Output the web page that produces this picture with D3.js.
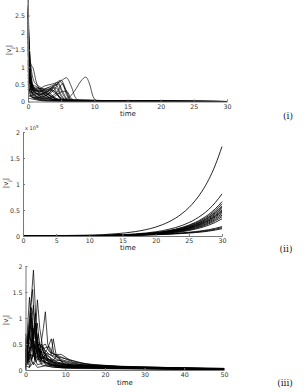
<!DOCTYPE html>
<html>
<head>
<meta charset="utf-8">
<script src="https://cdn.jsdelivr.net/npm/d3@7"></script>
<style>
  body { margin: 0; background: #fff; }
  svg { display: block; }
</style>
</head>
<body>
<div id="chart"></div>
<script>
// panel (i): decaying curves, [time, |v_j|]
let curvesA = [
    [[0,2.95],[0.2,1.6],[0.5,0.7],[1,0.3],[2,0.12],[3,0.05],[5,0.01],[30,0]],
    [[0,2.6],[0.3,1.2],[0.7,0.5],[1.5,0.3],[2.5,0.2],[3.5,0.08],[5,0.02],[30,0]],
    [[0,2.3],[0.4,1.1],[1,0.55],[2,0.4],[3,0.25],[4,0.1],[6,0.02],[30,0]],
    [[0,2.0],[0.3,0.9],[0.8,0.4],[1.5,0.35],[2.5,0.45],[3.5,0.5],[4.5,0.55],[5.2,0.3],[6,0.05],[7,0],[30,0]],
    [[0,1.5],[0.4,1.1],[0.8,0.95],[1.2,0.6],[2,0.3],[3,0.15],[4,0.05],[30,0]],
    [[0,1.2],[0.3,0.6],[1,0.3],[2,0.2],[3,0.3],[4,0.5],[5,0.62],[5.7,0.35],[6.5,0.05],[7.5,0],[30,0]],
    [[0,0.9],[0.5,0.4],[1,0.25],[2,0.22],[3,0.3],[4,0.45],[5,0.6],[5.8,0.69],[6.5,0.45],[7.2,0.1],[8,0.01],[30,0]],
    [[0,0.5],[0.5,0.2],[1,0.1],[2,0.06],[3,0.05],[4,0.05],[5,0.06],[6,0.1],[7,0.3],[8,0.6],[8.7,0.71],[9.3,0.5],[9.8,0.15],[10.4,0.02],[11,0],[30,0]],
    [[0,0.3],[0.5,0.35],[1.5,0.3],[2.5,0.35],[3.5,0.45],[4.5,0.5],[5.3,0.2],[6,0.03],[7,0],[30,0]],
    [[0,0.7],[0.5,0.3],[1.2,0.15],[2,0.2],[3,0.35],[3.8,0.42],[4.5,0.2],[5.2,0.03],[6,0],[30,0]],
    [[0,1.0],[0.4,0.45],[1,0.35],[2,0.3],[3,0.2],[4,0.1],[5,0.05],[6,0.02],[30,0]],
    [[0,0.2],[1,0.1],[2,0.12],[3,0.2],[4,0.35],[4.8,0.58],[5.5,0.4],[6.2,0.1],[7,0.01],[30,0]],
    [[0,2.8],[0.2,1.0],[0.6,0.45],[1.2,0.25],[2,0.15],[3,0.1],[4.5,0.03],[30,0]],
    [[0,1.9],[0.3,0.7],[0.8,0.3],[1.5,0.2],[2.5,0.25],[3.5,0.35],[4.2,0.4],[5,0.15],[5.8,0.02],[30,0]],
    [[0,0.4],[0.6,0.25],[1.5,0.4],[2.5,0.3],[3.5,0.15],[4.5,0.05],[30,0]],
    [[0,1.4],[0.3,0.5],[1,0.15],[2,0.08],[3,0.1],[4,0.15],[5,0.28],[5.8,0.3],[6.5,0.1],[7.5,0.01],[30,0]],
    [[0,0.6],[0.5,0.15],[1.5,0.05],[3,0.02],[30,0]],
    [[0,2.1],[0.2,0.8],[0.5,0.3],[1,0.12],[2,0.05],[3,0.02],[30,0]],
    [[0,0.15],[1,0.2],[2,0.3],[3,0.4],[4,0.3],[5,0.1],[6,0.02],[30,0]],
    [[0,1.1],[0.4,0.55],[1,0.4],[1.7,0.38],[2.5,0.2],[3.5,0.08],[5,0.02],[30,0]],
    [[0,0.1],[3,0.01],[8,0.005],[9.5,0.02],[10,0.035],[10.5,0.02],[11.5,0],[30,0]],
    [[0,2.5],[0.2,1.3],[0.5,0.55],[1,0.35],[2,0.28],[3,0.35],[4,0.25],[5,0.08],[6,0.01],[30,0]],
    [[0,0.8],[0.5,0.3],[1,0.2],[2,0.1],[2.8,0.18],[3.6,0.32],[4.3,0.25],[5,0.05],[30,0]],
    [[0,1.6],[0.3,0.6],[0.8,0.28],[1.5,0.12],[2.5,0.08],[3.5,0.15],[4.5,0.3],[5.2,0.52],[5.8,0.2],[6.5,0.02],[30,0]],
    [[0,1.75],[0.25,0.75],[0.7,0.35],[1.3,0.3],[2.2,0.38],[3,0.3],[4,0.12],[5,0.03],[30,0]],
    [[0,0.35],[0.8,0.1],[2,0.15],[3.2,0.25],[4.2,0.48],[5,0.2],[5.8,0.02],[30,0]],
    [[0,2.7],[0.15,1.4],[0.4,0.6],[0.9,0.4],[1.6,0.25],[2.6,0.12],[4,0.03],[30,0]],
    [[0,2.2],[0.25,1.0],[0.6,0.5],[1.1,0.45],[2,0.35],[3,0.2],[4.5,0.05],[30,0]]
]

// panel (ii): growing curves, values in units of 1e5
let timesB = [0, 10, 14, 17, 20, 22, 24, 25, 26, 27, 28, 29, 30]
let curvesB = [
    [0.002,0.017,0.043,0.086,0.172,0.273,0.433,0.545,0.686,0.863,1.085,1.367,1.72],
    [0.001,0.008,0.02,0.041,0.081,0.129,0.204,0.257,0.323,0.407,0.511,0.644,0.81],
    [0.001,0.007,0.017,0.033,0.066,0.105,0.166,0.209,0.263,0.331,0.416,0.525,0.66],
    [0.001,0.006,0.016,0.031,0.062,0.099,0.156,0.197,0.247,0.311,0.391,0.493,0.62],
    [0.001,0.006,0.015,0.029,0.058,0.092,0.146,0.184,0.231,0.291,0.366,0.461,0.58],
    [0.001,0.006,0.014,0.028,0.056,0.089,0.141,0.178,0.223,0.281,0.353,0.445,0.56],
    [0.001,0.005,0.013,0.027,0.053,0.084,0.134,0.168,0.211,0.266,0.334,0.421,0.53],
    [0.001,0.005,0.013,0.025,0.05,0.08,0.126,0.159,0.2,0.251,0.316,0.398,0.5],
    [0,0.005,0.012,0.024,0.048,0.076,0.121,0.152,0.192,0.241,0.303,0.382,0.48],
    [0,0.005,0.012,0.023,0.046,0.073,0.116,0.146,0.184,0.231,0.29,0.366,0.46],
    [0,0.004,0.011,0.022,0.043,0.068,0.108,0.136,0.172,0.216,0.271,0.342,0.43],
    [0,0.004,0.01,0.02,0.04,0.064,0.101,0.127,0.16,0.201,0.252,0.318,0.4],
    [0,0.004,0.009,0.019,0.037,0.059,0.093,0.117,0.148,0.186,0.233,0.294,0.37],
    [0,0.003,0.008,0.017,0.033,0.052,0.083,0.105,0.132,0.166,0.208,0.262,0.33],
    [0.001,0.005,0.011,0.018,0.031,0.043,0.061,0.072,0.085,0.101,0.121,0.148,0.18],
    [0.001,0.005,0.01,0.016,0.027,0.038,0.054,0.064,0.075,0.09,0.107,0.131,0.16],
    [0.001,0.004,0.008,0.014,0.024,0.034,0.048,0.056,0.066,0.078,0.094,0.115,0.14]
]

// panel (iii): spiky curves, [time, |v_j|]
let curvesC = [
    [[0,0.1],[1,0.9],[2,1.92],[2.6,1.0],[3,0.5],[4,0.3],[6,0.15],[10,0.07],[20,0.03],[50,0.015]],
    [[0,0.3],[1,1.0],[1.8,1.55],[2.4,0.6],[3,1.35],[3.6,0.8],[4.5,0.35],[6,0.2],[10,0.1],[20,0.04],[50,0.02]],
    [[0,0.05],[1.5,0.5],[2.5,0.9],[3.5,0.3],[4.5,0.8],[5,1.12],[5.6,0.5],[6.5,0.3],[7,0.6],[7.8,0.25],[10,0.1],[16,0.05],[50,0.01]],
    [[0,0.6],[0.5,0.2],[1.5,1.2],[2.2,0.4],[3,0.9],[3.5,0.5],[5,0.3],[8,0.15],[15,0.06],[50,0.02]],
    [[0,0.2],[1,1.4],[1.7,0.5],[2.5,1.1],[3,0.3],[4,0.5],[5,0.2],[8,0.1],[50,0.02]],
    [[0,0.45],[1,0.5],[2,0.8],[3,0.55],[4,0.45],[5,0.5],[6,0.35],[9,0.25],[12,0.15],[18,0.08],[30,0.04],[50,0.02]],
    [[0,0],[0.8,0.6],[1.6,1.0],[2.3,0.2],[3.2,0.7],[4,0.2],[6,0.1],[10,0.05],[50,0.01]],
    [[0,0.7],[0.7,0.3],[1.5,0.45],[2.5,0.3],[4,0.4],[6,0.45],[7,0.3],[9,0.3],[11,0.2],[15,0.12],[25,0.06],[50,0.03]],
    [[0,0.25],[1.2,0.75],[2,1.25],[2.7,0.4],[3.5,0.25],[5,0.2],[7,0.1],[12,0.05],[50,0.02]],
    [[0,0.5],[1,0.2],[2,0.55],[3,0.3],[4,0.25],[5.5,0.4],[6.5,0.6],[7.2,0.3],[9,0.2],[14,0.1],[22,0.05],[50,0.02]],
    [[0,0.02],[0.5,0.4],[1,0.05],[2,0.3],[3,0.1],[5,0.15],[8,0.05],[50,0.005]],
    [[0,0.35],[1.3,0.95],[2.1,0.3],[2.8,0.6],[3.5,0.25],[4.5,0.45],[5.5,0.2],[8,0.12],[13,0.06],[50,0.02]],
    [[0,0.15],[0.7,0.55],[1.5,0.2],[2.5,0.45],[3.5,0.15],[5,0.3],[6,0.1],[10,0.05],[50,0.01]],
    [[0,0.4],[2,0.45],[4,0.35],[6,0.3],[8,0.25],[10,0.22],[13,0.15],[17,0.1],[25,0.06],[35,0.04],[50,0.03]],
    [[0,0.1],[1.5,0.3],[3,0.2],[5,0.25],[7,0.15],[10,0.1],[20,0.04],[50,0.02]],
    [[0,0.55],[0.6,0.1],[1.8,0.7],[2.6,0.15],[4,0.35],[5,0.1],[7,0.08],[50,0.01]],
    [[0,0.05],[1,0.3],[2,0.1],[3.2,0.5],[4,0.15],[6,0.2],[8,0.08],[50,0.01]],
    [[0,0.25],[1.7,0.85],[2.4,0.2],[3.3,0.3],[4,0.1],[7,0.05],[50,0.01]],
    [[0,0.3],[3,0.25],[6,0.2],[9,0.18],[12,0.12],[16,0.08],[20,0.06],[30,0.04],[40,0.03],[50,0.02]],
    [[0,0.15],[1.4,1.1],[2,0.6],[2.6,0.9],[3.2,0.2],[5,0.15],[9,0.06],[50,0.01]],
    [[0,0.4],[1,0.15],[2.2,0.35],[3.5,0.2],[5,0.25],[6.5,0.15],[8,0.28],[9.5,0.12],[12,0.08],[50,0.02]],
    [[0,0.08],[1,0.05],[2,0.15],[3,0.05],[5,0.08],[10,0.03],[50,0.005]],
    [[0,0.6],[1,0.7],[2,0.35],[3,0.5],[4.2,0.25],[5.5,0.3],[7,0.15],[10,0.1],[50,0.02]],
    [[0,0.2],[2.2,0.55],[4,0.45],[6,0.3],[8,0.2],[11,0.12],[15,0.1],[20,0.08],[27,0.05],[50,0.03]],
    [[0,0.3],[0.9,0.75],[1.9,0.3],[2.9,0.55],[4,0.2],[6,0.12],[12,0.04],[50,0.01]],
    [[0,0.1],[1.6,0.6],[2.5,0.35],[3.8,0.4],[5,0.12],[8,0.06],[50,0.01]]
]

let ticksX30 = [0, 5, 10, 15, 20, 25, 30]
let ticksX50 = [0, 10, 20, 30, 40, 50]
let ticksYA = [0, 0.5, 1, 1.5, 2, 2.5]
let ticksYB = [0, 0.5, 1, 1.5, 2]
let panelLabels = ["(i)", "(ii)", "(iii)"]

let width = 305, height = 392

let svg = d3.select("#chart").append("svg")
    .attr("width", width)
    .attr("height", height)

function drawPanel(p) {
    let x = d3.scaleLinear().domain(p.xDomain).range(p.xRange)
    let y = d3.scaleLinear().domain(p.yDomain).range(p.yRange)
    let g = svg.append("g")

    let line = d3.line()
        .x(d => x(d[0]))
        .y(d => y(d[1]))
        .curve(p.curve)

    g.append("g").selectAll("path")
        .data(p.curves)
        .join("path")
        .attr("d", line)
        .attr("fill", "none")
        .attr("stroke", "#000")
        .attr("stroke-opacity", 0.9)
        .attr("stroke-width", p.lineWidth)

    // axes with inward ticks, matlab style
    let xAxis = g.append("g")
        .attr("transform", "translate(0," + p.yRange[0] + ")")
        .call(d3.axisBottom(x).tickValues(p.xTicks).tickSizeInner(-2).tickSizeOuter(0).tickPadding(4))
    let yAxis = g.append("g")
        .attr("transform", "translate(" + p.xRange[0] + ",0)")
        .call(d3.axisLeft(y).tickValues(p.yTicks).tickSizeInner(-2).tickSizeOuter(0).tickPadding(3).tickFormat(d3.format("")))

    for (let ax of [xAxis, yAxis]) {
        ax.select(".domain").attr("stroke", "#777").attr("stroke-width", 1)
        ax.selectAll(".tick line").attr("stroke", "#777")
        ax.selectAll("text")
            .attr("fill", "#333")
            .style("font-family", "'DejaVu Sans', sans-serif")
            .style("font-size", "6.3px")
    }
    xAxis.selectAll("text").attr("y", 3)

    g.append("text")
        .attr("x", p.timePos[0])
        .attr("y", p.timePos[1])
        .attr("text-anchor", "middle")
        .style("font-family", "'DejaVu Sans', sans-serif")
        .style("font-size", "7px")
        .attr("fill", "#222")
        .text("time")

    let yl = g.append("text")
        .attr("transform", "translate(" + p.yLabelPos[0] + "," + p.yLabelPos[1] + ") rotate(-90)")
        .attr("text-anchor", "middle")
        .style("font-family", "'DejaVu Sans', sans-serif")
        .style("font-size", "7px")
        .attr("fill", "#222")
    yl.append("tspan").text("|v")
    yl.append("tspan").attr("baseline-shift", "sub").style("font-size", "5px").text("j")
    yl.append("tspan").text("|")

    g.append("text")
        .attr("x", p.romanPos[0])
        .attr("y", p.romanPos[1])
        .attr("text-anchor", "middle")
        .style("font-family", "'DejaVu Serif', serif")
        .style("font-size", "9px")
        .attr("fill", "#222")
        .text(p.label)

    return g
}

drawPanel({
    curves: curvesA,
    curve: d3.curveMonotoneX,
    lineWidth: 0.75,
    xDomain: [0, 30], xRange: [28, 227],
    yDomain: [0, 3], yRange: [101.5, -1.7],
    xTicks: ticksX30, yTicks: ticksYA,
    timePos: [128, 116], yLabelPos: [11, 50], romanPos: [288, 119],
    label: panelLabels[0]
})

let gB = drawPanel({
    curves: curvesB.map(vals => vals.map((v, i) => [timesB[i], v])),
    curve: d3.curveMonotoneX,
    lineWidth: 0.95,
    xDomain: [0, 30], xRange: [23, 222],
    yDomain: [0, 2], yRange: [236, 132],
    xTicks: ticksX30, yTicks: ticksYB,
    timePos: [128, 250], yLabelPos: [8, 183], romanPos: [286, 252],
    label: panelLabels[1]
})

// exponent label for panel (ii)
let ex = gB.append("text")
    .attr("x", 25)
    .attr("y", 130)
    .style("font-family", "'DejaVu Sans', sans-serif")
    .style("font-size", "5px")
    .attr("fill", "#333")
ex.append("tspan").text("x 10")
ex.append("tspan").attr("dy", -2).style("font-size", "4px").text("5")

drawPanel({
    curves: curvesC,
    curve: d3.curveLinear,
    lineWidth: 0.8,
    xDomain: [0, 50], xRange: [25.5, 224],
    yDomain: [0, 2], yRange: [370, 266],
    xTicks: ticksX50, yTicks: ticksYB,
    timePos: [125, 385], yLabelPos: [8, 320], romanPos: [285, 386],
    label: panelLabels[2]
})
</script>
</body>
</html>
